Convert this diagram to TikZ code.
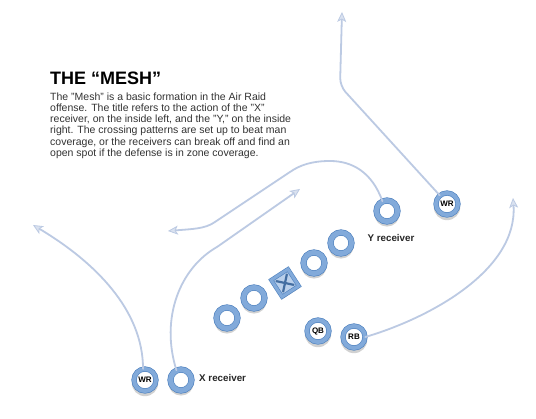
\documentclass[tikz,border=0pt]{standalone}
\usepackage{fontspec}
\setmainfont{Liberation Sans}
\usetikzlibrary{arrows.meta,shadows,calc}
\definecolor{ringfill}{HTML}{82AADA}
\definecolor{ringedge}{HTML}{4F82BF}
\definecolor{routec}{HTML}{BCCAE3}
\definecolor{bodytext}{HTML}{333333}
\tikzset{
  player/.style={circle, minimum size=21pt, inner sep=0pt, draw=ringedge, line width=0.6pt,
    double=ringfill, double distance=5pt, fill=white,
    drop shadow={shadow xshift=0pt, shadow yshift=-2.5pt, shadow scale=1.2, opacity=0.18, fill=black},
    font=\bfseries\fontsize{8}{8}\selectfont, text=black},
  bigplayer/.style={player, minimum size=22pt, double distance=4pt},
  centerbox/.style={rectangle, minimum size=20pt, inner sep=0pt, rotate=33, draw=ringedge, line width=0.6pt,
    double=ringfill, double distance=3pt, fill=ringfill!55,
    drop shadow={shadow xshift=0pt, shadow yshift=-2.5pt, opacity=0.18, fill=black}},
  route/.style={draw=routec, line width=1.8pt, line cap=round,
    -{Stealth[length=10pt, width=9pt, inset=2.5pt, fill=routec!55, line width=0.8pt]}},
  lbl/.style={font=\bfseries\fontsize{9.8}{10}\selectfont, text=black!85, inner sep=0pt}
}
\begin{document}
\begin{tikzpicture}[x=1pt,y=-1pt]
\useasboundingbox[fill=white] (0,0) rectangle (536,419);

% title and text
\node[anchor=base west, inner sep=0pt, font=\bfseries\fontsize{18}{18}\selectfont] (title) at (50,85) {THE “MESH”};
\node[anchor=north west, inner sep=0pt, align=left, text=bodytext, font=\fontsize{10.5}{11.2}\selectfont] (body) at (50,92.5)
 {The "Mesh" is a basic formation in the Air Raid\\
  offense. The title refers to the action of the "X"\\
  receiver, on the inside left, and the "Y," on the inside\\
  right. The crossing patterns are set up to beat man\\
  coverage, or the receivers can break off and find an\\
  open spot if the defense is in zone coverage.};

% route end points
\coordinate (t1) at (33,225);
\coordinate (t2) at (300,189);
\coordinate (t3) at (168,231);
\coordinate (t4) at (342,12);
\coordinate (t5) at (513,198);

% players
\node[bigplayer] (wr1) at (145,380) {WR};
\node[player] (xr) at (181,380) {};
\node[player] (o1) at (227,318) {};
\node[player] (o2) at (254,298) {};
\node[centerbox] (c) at (285,283) {};
\node[player] (o3) at (314,263) {};
\node[player] (o4) at (341,243) {};
\node[player] (yr) at (387,211) {};
\node[bigplayer] (wr2) at (447,204) {WR};
\node[bigplayer] (qb) at (318,331) {QB};
\node[bigplayer] (rb) at (354,337) {RB};

\draw[ringedge!85!black, line width=2.2pt, line cap=round]
  ($(c.north west)!0.2!(c.south east)$) -- ($(c.north west)!0.8!(c.south east)$)
  ($(c.north east)!0.2!(c.south west)$) -- ($(c.north east)!0.8!(c.south west)$);

% labels
\node[lbl, anchor=west] (xl) at (199,378) {X receiver};
\node[lbl, anchor=center] (yl) at (391,238) {Y receiver};

% routes
\draw[route] (wr1.100) .. controls (143,310) and (95,262) .. (t1);
\draw[route] (xr.115) .. controls (160,318) and (180,268) .. (217,247) -- (t2);
\draw[route] (yr.115) .. controls (372,172) and (352,161) .. (330,161)
   .. controls (312,161) and (300,165) .. (290,172) -- (215,222)
   .. controls (205,229) and (192,229) .. (t3);
\draw[route, rounded corners=8pt] (wr2.130) -- (340,86) -- (t4);
\draw[route] (rb.east) .. controls (430,318) and (518,270) .. (t5);
\end{tikzpicture}
\end{document}
